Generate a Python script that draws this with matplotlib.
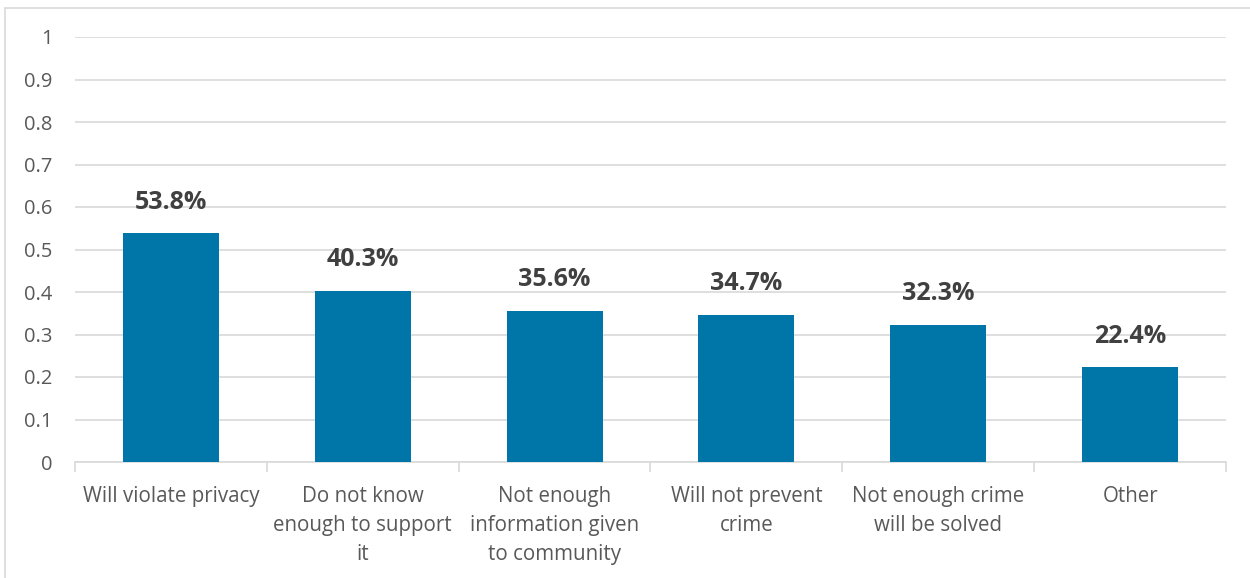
import matplotlib.pyplot as plt
from matplotlib.patches import Rectangle
import numpy as np

# Reasons for not supporting (share of respondents)
categories = [
    "Will violate privacy",
    "Do not know\nenough to support\nit",
    "Not enough\ninformation given\nto community",
    "Will not prevent\ncrime",
    "Not enough crime\nwill be solved",
    "Other",
]
shares = [0.538, 0.403, 0.356, 0.347, 0.323, 0.224]
y_ticks = [0, 0.1, 0.2, 0.3, 0.4, 0.5, 0.6, 0.7, 0.8, 0.9, 1]
y_tick_labels = ["0", "0.1", "0.2", "0.3", "0.4", "0.5", "0.6", "0.7", "0.8", "0.9", "1"]

bar_color = "#0076A8"
text_gray = "#595959"
grid_gray = "#D9D9D9"

plt.rcParams['font.family'] = ['Open Sans', 'DejaVu Sans']

fig = plt.figure(figsize=(12.5, 5.78), dpi=100)

# outer chart frame
fig.patches.append(Rectangle((5 / 1250, -0.1), 1.2, 1 - 8 / 578 + 0.1,
                             transform=fig.transFigure, fill=False,
                             edgecolor=grid_gray, linewidth=1.2))

ax = fig.add_axes([75 / 1250, 1 - 462 / 578, 1151 / 1250, 425 / 578])

x = np.arange(len(categories))
ax.bar(x, shares, width=0.5, color=bar_color, zorder=3)

for xi, v in zip(x, shares):
    ax.text(xi, v + 0.043, f"{v * 100:.1f}%", ha="center", va="bottom",
            fontsize=18, fontweight="bold", color="#404040")

ax.set_xlim(-0.5, len(categories) - 0.5)
ax.set_ylim(0, 1)
ax.set_yticks(y_ticks)
ax.set_yticklabels(y_tick_labels)
ax.set_xticks(x)
ax.set_xticklabels(categories, linespacing=1.52, va="top")

# category separators along the x axis
ax.set_xticks(np.arange(len(categories) + 1) - 0.5, minor=True)
ax.tick_params(axis="x", which="major", length=0, pad=17, labelsize=14.8, labelcolor=text_gray)
ax.tick_params(axis="x", which="minor", length=7, color=grid_gray, width=1.2)
ax.tick_params(axis="y", length=0, pad=16, labelsize=14.5, labelcolor=text_gray)

ax.grid(axis="y", color=grid_gray, linewidth=1.2, zorder=0)
for side in ["top", "right", "left"]:
    ax.spines[side].set_visible(False)
ax.spines["bottom"].set_color(grid_gray)
ax.spines["bottom"].set_linewidth(1.2)

fig.savefig("out.png", dpi=100)
